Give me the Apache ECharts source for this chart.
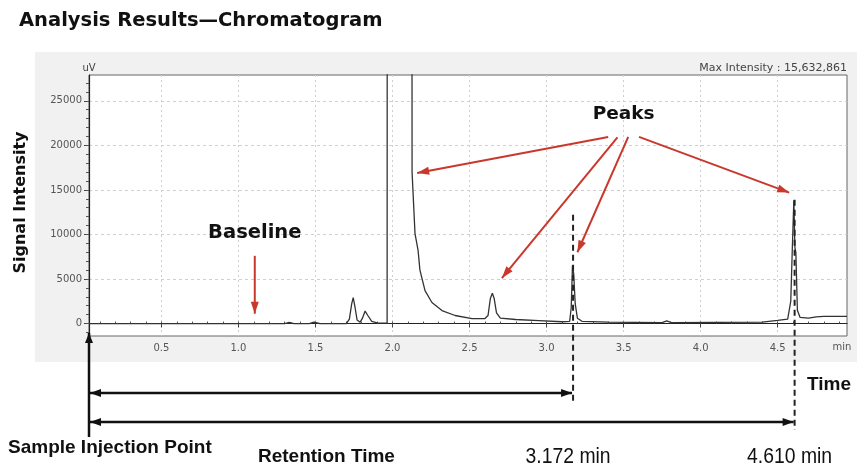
<!DOCTYPE html>
<html>
<head>
<meta charset="utf-8">
<title>Analysis Results—Chromatogram</title>
<script src="https://cdn.jsdelivr.net/npm/echarts@6.0.0/dist/echarts.min.js"></script>
<style>
  html, body { margin: 0; padding: 0; background: #fff; }
  #chart { width: 857px; height: 467px; }
</style>
</head>
<body>
<div id="chart"></div>
<script>
// retention time (min) and detector signal (uV)
const timeMin = [
  0.03, 0.40, 0.80, 1.20, 1.30, 1.33, 1.36, 1.46, 1.49, 1.53,
  1.70, 1.72, 1.735, 1.745, 1.757, 1.77, 1.79, 1.805, 1.822, 1.84,
  1.865, 1.90, 1.965, 1.972, 2.115, 2.127, 2.146, 2.166, 2.178, 2.211,
  2.256, 2.321, 2.406, 2.516, 2.60, 2.62, 2.635, 2.648, 2.66, 2.675,
  2.70, 2.80, 2.95, 3.10, 3.15, 3.16, 3.168, 3.176, 3.186, 3.20,
  3.23, 3.40, 3.75, 3.78, 3.81, 4.40, 4.50, 4.565, 4.585, 4.595,
  4.600, 4.605, 4.612, 4.618, 4.628, 4.645, 4.70, 4.75, 4.80, 4.95
];
const signalUV = [
  0, 0, 0, 0, 0, 120, 0, 0, 150, 0,
  0, 500, 2200, 2900, 1800, 400, 150, 600, 1400, 900,
  250, 80, 50, 400000, 400000, 17000, 10100, 8200, 6000, 3700,
  2360, 1460, 900, 560, 560, 900, 2800, 3400, 2800, 1200,
  600, 450, 330, 200, 250, 1800, 6500, 5600, 2200, 600,
  250, 150, 100, 300, 100, 150, 350, 500, 2500, 8400,
  8500, 13850, 8500, 8000, 1500, 700, 600, 750, 800, 800
];

const xRange = [0.03, 4.95];
const yRange = [-1400, 27900];
const xTicks = [0.5, 1.0, 1.5, 2.0, 2.5, 3.0, 3.5, 4.0, 4.5];
const yTicks = [0, 5000, 10000, 15000, 20000, 25000];
const xMinorTicks = [];
for (let v = 1; v <= 49; v++) xMinorTicks.push(v / 10);
const yMinorTicks = [];
for (let v = -1000; v <= 27000; v += 1000) yMinorTicks.push(v);

// annotations (in data units)
const retentionTimes = [3.172, 4.610];
const retentionLabels = ['3.172 min', '4.610 min'];
const retentionTops = [12200, 13900];
const peakArrowFrom = [[3.40, 20950], [3.46, 20900], [3.53, 20950], [3.60, 20950]];
const peakArrowTo = [[2.16, 16900], [2.71, 5100], [3.20, 8000], [4.575, 14700]];
const peaksLabelAt = [3.50, 23500];
const baselineArrow = [[1.106, 7600], [1.106, 1100]];
const baselineLabelAt = [1.106, 10150];

const red = '#c8382c';
const bold = 'DejaVu Sans, Verdana, sans-serif';
const arial = '"Liberation Sans", Arial, sans-serif';
const tickFont = '"DejaVu Sans", sans-serif';

const chart = echarts.init(document.getElementById('chart'));

chart.setOption({
  animation: false,
  backgroundColor: '#fff',
  title: {
    text: 'Analysis Results—Chromatogram',
    left: 14, top: 6,
    textStyle: { fontFamily: bold, fontWeight: 'bold', fontSize: 19.5, color: '#111' }
  },
  grid: {
    left: 89, right: 10, top: 75, bottom: 131,
    show: true, backgroundColor: '#fff', borderColor: '#666', borderWidth: 1
  },
  xAxis: [{
    type: 'value', min: xRange[0], max: xRange[1],
    axisLine: { lineStyle: { color: '#222', width: 1.2 } },
    axisTick: { customValues: xTicks, length: 4, lineStyle: { color: '#444' } },
    axisLabel: {
      customValues: xTicks, color: '#555', fontSize: 10, margin: 7,
      fontFamily: tickFont, formatter: v => v.toFixed(1)
    },
    splitLine: { show: true, lineStyle: { color: '#cfcfcf', type: [2, 3] } }
  }, {
    type: 'value', min: xRange[0], max: xRange[1],
    axisLine: { show: false },
    axisTick: { customValues: xMinorTicks, length: 2, lineStyle: { color: '#555' } },
    axisLabel: { show: false },
    splitLine: { show: false }
  }],
  yAxis: [{
    type: 'value', min: yRange[0], max: yRange[1],
    name: 'Signal Intensity', nameLocation: 'middle', nameGap: 60, nameRotate: 90,
    nameTextStyle: { fontFamily: bold, fontWeight: 'bold', fontSize: 16, color: '#111', padding: [0, 0, 0, 6] },
    axisLine: { show: true, lineStyle: { color: '#222', width: 1.2 } },
    axisTick: { customValues: yTicks, length: 5, lineStyle: { color: '#444' } },
    axisLabel: {
      customValues: yTicks, color: '#555', fontSize: 10, margin: 7,
      fontFamily: tickFont, formatter: v => String(v)
    },
    splitLine: { show: true, lineStyle: { color: '#cfcfcf', type: [3, 3] } }
  }, {
    type: 'value', min: yRange[0], max: yRange[1], position: 'left',
    name: 'uV', nameLocation: 'end', nameGap: 2,
    nameTextStyle: { color: '#444', fontSize: 10, fontFamily: tickFont },
    axisLine: { show: false },
    axisTick: { customValues: yMinorTicks, length: 3, lineStyle: { color: '#555' } },
    axisLabel: { show: false },
    splitLine: { show: false }
  }],
  series: [{
    type: 'line',
    xAxisIndex: 0, yAxisIndex: 0,
    data: timeMin.map((t, i) => [t, signalUV[i]]),
    showSymbol: false,
    clip: true,
    lineStyle: { color: '#333', width: 1.3 }
  }]
});

const px = p => chart.convertToPixel({ xAxisIndex: 0, yAxisIndex: 0 }, p);

function head(tip, from, len, w, color) {
  const dx = tip[0] - from[0], dy = tip[1] - from[1];
  const d = Math.hypot(dx, dy);
  const ux = dx / d, uy = dy / d;
  const bx = tip[0] - ux * len, by = tip[1] - uy * len;
  return {
    type: 'polygon', z: 20,
    shape: { points: [tip, [bx - uy * w / 2, by + ux * w / 2], [bx + uy * w / 2, by - ux * w / 2]] },
    style: { fill: color }
  };
}
function arrow(a, b, color, width, len, w, both) {
  const els = [{
    type: 'line', z: 19,
    shape: { x1: a[0], y1: a[1], x2: b[0], y2: b[1] },
    style: { stroke: color, lineWidth: width }
  }, head(b, a, len, w, color)];
  if (both) els.push(head(a, b, len, w, color));
  return els;
}
function label(text, x, y, font, size, weight, align, color) {
  return {
    type: 'text', z: 21, x: x, y: y,
    style: {
      text: text, fill: color || '#111', font: weight + ' ' + size + 'px ' + font,
      align: align, verticalAlign: 'middle'
    }
  };
}

const g = [];
// grey panel behind the plot
g.push({ type: 'rect', z: -10, shape: { x: 35, y: 52, width: 822, height: 310 }, style: { fill: '#f1f1f1' } });

g.push(label('Max Intensity : 15,632,861', 847, 68, tickFont, 11, 'normal', 'right', '#444'));
g.push(label('min', 842, 347, tickFont, 10, 'normal', 'center', '#555'));

// red annotation arrows
peakArrowFrom.forEach((f, i) => {
  arrow(px(f), px(peakArrowTo[i]), red, 2, 12, 8, false).forEach(e => g.push(e));
});
arrow(px(baselineArrow[0]), px(baselineArrow[1]), red, 2, 12, 8, false).forEach(e => g.push(e));
const pk = px(peaksLabelAt);
const bl = px(baselineLabelAt);
g.push(label('Peaks', pk[0], pk[1], bold, 18.5, 'bold', 'center'));
g.push(label('Baseline', bl[0], bl[1], bold, 19.5, 'bold', 'center'));

// retention-time markers under the plot
const inj = px([xRange[0], 0])[0];
const dashBottoms = [403, 430];
const spanY = [393, 422];
retentionTimes.forEach((t, i) => {
  const top = px([t, retentionTops[i]]);
  g.push({
    type: 'line', z: 18,
    shape: { x1: top[0], y1: top[1], x2: top[0], y2: dashBottoms[i] },
    style: { stroke: '#222', lineWidth: 2, lineDash: [6, 4] }
  });
  arrow([inj + 1, spanY[i]], [top[0] - 1, spanY[i]], '#111', 2.5, 11, 8, true).forEach(e => g.push(e));
  const t2 = label(retentionLabels[i], top[0] - 5, 457, arial, 22, 'normal', 'center');
  t2.scaleX = 0.88;
  g.push(t2);
});
arrow([inj, 437], [inj, 333], '#111', 2.5, 10, 8, false).forEach(e => g.push(e));

g.push(label('Time', 807, 385, arial, 19, 'bold', 'left'));
g.push(label('Sample Injection Point', 8, 448, arial, 19, 'bold', 'left'));
g.push(label('Retention Time', 258, 457, arial, 19, 'bold', 'left'));

chart.setOption({ graphic: g });
</script>
</body>
</html>
